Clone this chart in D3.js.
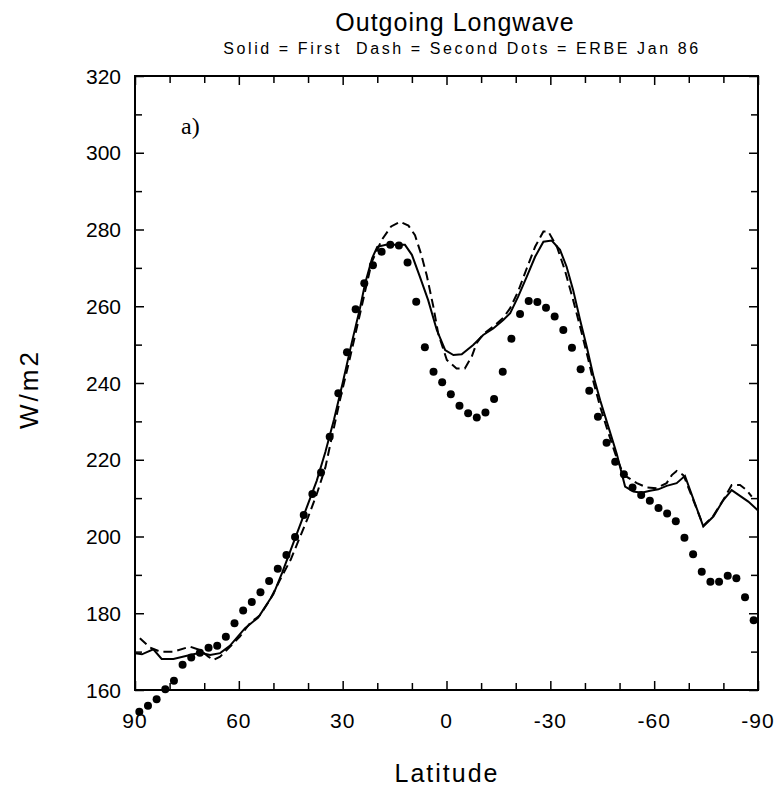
<!DOCTYPE html>
<html>
<head>
<meta charset="utf-8">
<script src="https://cdn.jsdelivr.net/npm/d3@7"></script>
<style>
  html, body { margin: 0; padding: 0; background: #fff; }
  svg { display: block; }
  text { white-space: pre; }
</style>
</head>
<body>
<svg id="chart" width="783" height="789"></svg>
<script>
// ---- data ----
const titleText = "Outgoing Longwave";
const subtitleText = "Solid = First  Dash = Second Dots = ERBE Jan 86";
const xLabelText = "Latitude";
const yLabelText = "W/m2";
const panelLabel = "a)";

const xTickValues = [90, 60, 30, 0, -30, -60, -90];
const xTickLabels = ["90", "60", "30", "0", "-30", "-60", "-90"];
const yTickValues = [160, 180, 200, 220, 240, 260, 280, 300, 320];
const yTickLabels = ["160", "180", "200", "220", "240", "260", "280", "300", "320"];

// Solid = First
const solidLat = [90, 88, 84.7, 82.3, 78.9, 74.1, 71.2, 68.3, 65.4, 62.6, 58.2, 54.4, 50, 47.5, 45, 42.5, 40, 37.5, 35, 32.5, 30, 27.5, 25, 23.5, 21.5, 20, 17.5, 12, 10, 7.7, 5.3, 2.8, 0.4, -2, -4.4, -7.7, -10.6, -13.5, -16.4, -18.4, -20.7, -23.2, -25.6, -28, -30.4, -32.8, -34.7, -36.6, -38.6, -40.5, -42.4, -44.4, -46.8, -49.2, -51.6, -54, -56.4, -58.8, -61.2, -63.6, -66.5, -68.9, -74.2, -77.1, -80, -82.4, -84.8, -87.2, -90];
const solidVal = [169.6, 169.3, 170.6, 168.1, 168.1, 169.1, 169.7, 169.1, 169.6, 171.5, 176.1, 178.9, 185, 190.5, 196.5, 202.5, 208.5, 214.5, 222, 230.5, 240, 250, 259.5, 266, 272.5, 275.5, 276, 276, 273.4, 267.7, 261.6, 253.8, 248.6, 247.3, 247.5, 249.9, 252.5, 254.2, 256.4, 258.2, 262.5, 267.7, 272.9, 276.8, 277.1, 274.7, 270.3, 264.2, 256.4, 249.5, 242, 235.5, 228.5, 221.5, 213, 211.7, 211.4, 211.9, 212.3, 213.2, 213.9, 215.8, 202.6, 205.2, 209.5, 212.1, 210.6, 209.1, 206.8];

// Dash = Second
const dashLat = [88.6, 85.7, 82.8, 78.9, 74.1, 71.2, 68.8, 67.4, 65.4, 63.5, 59.7, 56.8, 53.9, 51, 48.1, 45, 42.5, 40, 37.5, 35, 33.7, 30.8, 27.9, 25, 21.6, 18.7, 16, 13.4, 11, 9.1, 7.3, 5.7, 3.8, 2.4, -0.1, -2.9, -5.3, -7.3, -8.7, -10.6, -13.5, -16.4, -18.4, -20.7, -23.2, -25.6, -28, -29.4, -31.9, -34.2, -36.6, -39.1, -41, -42.4, -44.4, -46.8, -48.7, -50.6, -52, -55, -57.8, -60.7, -63.6, -65.1, -66.5, -68.4, -69, -74.2, -77.1, -80, -82.4, -84.8, -86.7, -88.2];
const dashVal = [173.5, 171.1, 170, 170, 171.3, 170.4, 168.7, 167.8, 168.7, 170.4, 173.9, 177.4, 179.5, 183.5, 188.7, 194, 199.5, 205, 211, 218, 223.5, 235.5, 246.5, 258, 271.5, 277.3, 280.8, 282, 281, 278.5, 273.5, 268, 259.9, 252.9, 246, 243.8, 243.8, 246.9, 250.4, 252.7, 254.7, 257, 259.5, 263.9, 269.9, 275.5, 279.5, 279.5, 275.5, 269.4, 261.6, 252.9, 246, 240.5, 233.8, 226.9, 221.7, 217.3, 215.6, 213.9, 212.8, 212.6, 213.9, 216, 217.1, 216, 214.8, 202.8, 205.4, 209.6, 213.4, 213.4, 212.1, 210.4];

// Dots = ERBE Jan 86 (every 2.5 deg)
const dotLat = [88.75, 86.25, 83.75, 81.25, 78.75, 76.25, 73.75, 71.25, 68.75, 66.25, 63.75, 61.25, 58.75, 56.25, 53.75, 51.25, 48.75, 46.25, 43.75, 41.25, 38.75, 36.25, 33.75, 31.25, 28.75, 26.25, 23.75, 21.25, 18.75, 16.25, 13.75, 11.25, 8.75, 6.25, 3.75, 1.25, -1.25, -3.75, -6.25, -8.75, -11.25, -13.75, -16.25, -18.75, -21.25, -23.75, -26.25, -28.75, -31.25, -33.75, -36.25, -38.75, -41.25, -43.75, -46.25, -48.75, -51.25, -53.75, -56.25, -58.75, -61.25, -63.75, -66.25, -68.75, -71.25, -73.75, -76.25, -78.75, -81.25, -83.75, -86.25, -88.75];
const dotVal = [154.3, 155.9, 157.6, 160.2, 162.4, 166.6, 168.5, 169.7, 171.0, 171.5, 173.9, 177.4, 180.7, 182.9, 185.5, 188.4, 191.6, 195.2, 199.9, 205.6, 211.1, 216.7, 226.0, 237.3, 248.0, 259.2, 266.0, 270.7, 274.2, 276.0, 275.8, 271.4, 261.2, 249.3, 242.9, 240.2, 237.1, 234.1, 232.1, 231.0, 232.3, 235.8, 242.9, 251.5, 258.0, 261.4, 261.1, 259.6, 257.3, 253.8, 249.2, 243.6, 238.0, 231.2, 224.4, 219.5, 216.2, 212.8, 210.8, 209.3, 207.4, 206.0, 204.0, 199.7, 195.4, 190.8, 188.2, 188.2, 189.8, 189.1, 184.2, 178.2];

// ---- drawing ----
const svg = d3.select("#chart");
const pLeft = 135, pRight = 758, pTop = 76, pBottom = 690;
const x = d3.scaleLinear().domain([90, -90]).range([pLeft, pRight]);
const y = d3.scaleLinear().domain([160, 320]).range([pBottom, pTop]);
const font = "'Liberation Sans', Arial, sans-serif";

// frame
svg.append("rect")
  .attr("x", pLeft).attr("y", pTop)
  .attr("width", pRight - pLeft).attr("height", pBottom - pTop)
  .attr("fill", "none").attr("stroke", "#000").attr("stroke-width", 2);

const xMinor = d3.range(90, -91, -10);
const yMinor = d3.range(160, 321, 10);
function tickLen(isMajor) { return isMajor ? 9 : 7; }

// bottom axis
const gB = svg.append("g").attr("transform", `translate(0,${pBottom})`)
  .call(d3.axisBottom(x).tickValues(xMinor).tickSizeInner(0).tickSizeOuter(0).tickFormat(""));
gB.select(".domain").remove();
gB.selectAll(".tick line").attr("y2", d => -tickLen(d % 30 === 0)).attr("stroke", "#000").attr("stroke-width", 1.5);
// top axis
const gT = svg.append("g").attr("transform", `translate(0,${pTop})`)
  .call(d3.axisTop(x).tickValues(xMinor).tickSizeInner(0).tickSizeOuter(0).tickFormat(""));
gT.select(".domain").remove();
gT.selectAll(".tick line").attr("y2", d => tickLen(d % 30 === 0)).attr("stroke", "#000").attr("stroke-width", 1.5);
// left axis
const gL = svg.append("g").attr("transform", `translate(${pLeft},0)`)
  .call(d3.axisLeft(y).tickValues(yMinor).tickSizeInner(0).tickSizeOuter(0).tickFormat(""));
gL.select(".domain").remove();
gL.selectAll(".tick line").attr("x2", d => tickLen(d % 20 === 0)).attr("stroke", "#000").attr("stroke-width", 1.5);
// right axis
const gR = svg.append("g").attr("transform", `translate(${pRight},0)`)
  .call(d3.axisRight(y).tickValues(yMinor).tickSizeInner(0).tickSizeOuter(0).tickFormat(""));
gR.select(".domain").remove();
gR.selectAll(".tick line").attr("x2", d => -tickLen(d % 20 === 0)).attr("stroke", "#000").attr("stroke-width", 1.5);

// tick labels
svg.append("g").selectAll("text").data(xTickValues).join("text")
  .attr("x", d => x(d)).attr("y", pBottom + 38)
  .attr("text-anchor", "middle")
  .attr("font-family", font).attr("font-size", 21)
  .attr("letter-spacing", 1)
  .text((d, i) => xTickLabels[i]);
svg.append("g").selectAll("text").data(yTickValues).join("text")
  .attr("x", pLeft - 14).attr("y", d => y(d))
  .attr("dy", "0.36em")
  .attr("text-anchor", "end")
  .attr("font-family", font).attr("font-size", 21)
  .text((d, i) => yTickLabels[i]);

// titles
svg.append("text").attr("x", 455).attr("y", 31)
  .attr("text-anchor", "middle").attr("font-family", font).attr("font-size", 25)
  .attr("letter-spacing", 1)
  .text(titleText);
svg.append("text").attr("x", 462).attr("y", 54)
  .attr("text-anchor", "middle").attr("font-family", font).attr("font-size", 16)
  .attr("letter-spacing", 2.6)
  .text(subtitleText);
svg.append("text").attr("x", 447).attr("y", 782)
  .attr("text-anchor", "middle").attr("font-family", font).attr("font-size", 25)
  .attr("letter-spacing", 2)
  .text(xLabelText);
svg.append("text").attr("transform", `translate(38,${(pTop + pBottom) / 2 + 6}) rotate(-90)`)
  .attr("text-anchor", "middle").attr("font-family", font).attr("font-size", 26)
  .attr("letter-spacing", 3)
  .text(yLabelText);
svg.append("text").attr("x", 181).attr("y", 134)
  .attr("font-family", "'Liberation Serif', 'Times New Roman', serif").attr("font-size", 24)
  .text(panelLabel);

// series
const line = d3.line().x(d => x(d[0])).y(d => y(d[1]));
svg.append("path").datum(solidLat.map((l, i) => [l, solidVal[i]]))
  .attr("d", line).attr("fill", "none").attr("stroke", "#000").attr("stroke-width", 2);
svg.append("path").datum(dashLat.map((l, i) => [l, dashVal[i]]))
  .attr("d", line).attr("fill", "none").attr("stroke", "#000").attr("stroke-width", 2)
  .attr("stroke-dasharray", "9,5");
svg.append("g").selectAll("circle").data(dotLat.map((l, i) => [l, dotVal[i]])).join("circle")
  .attr("cx", d => x(d[0])).attr("cy", d => y(d[1])).attr("r", 4).attr("fill", "#000");
</script>
</body>
</html>
